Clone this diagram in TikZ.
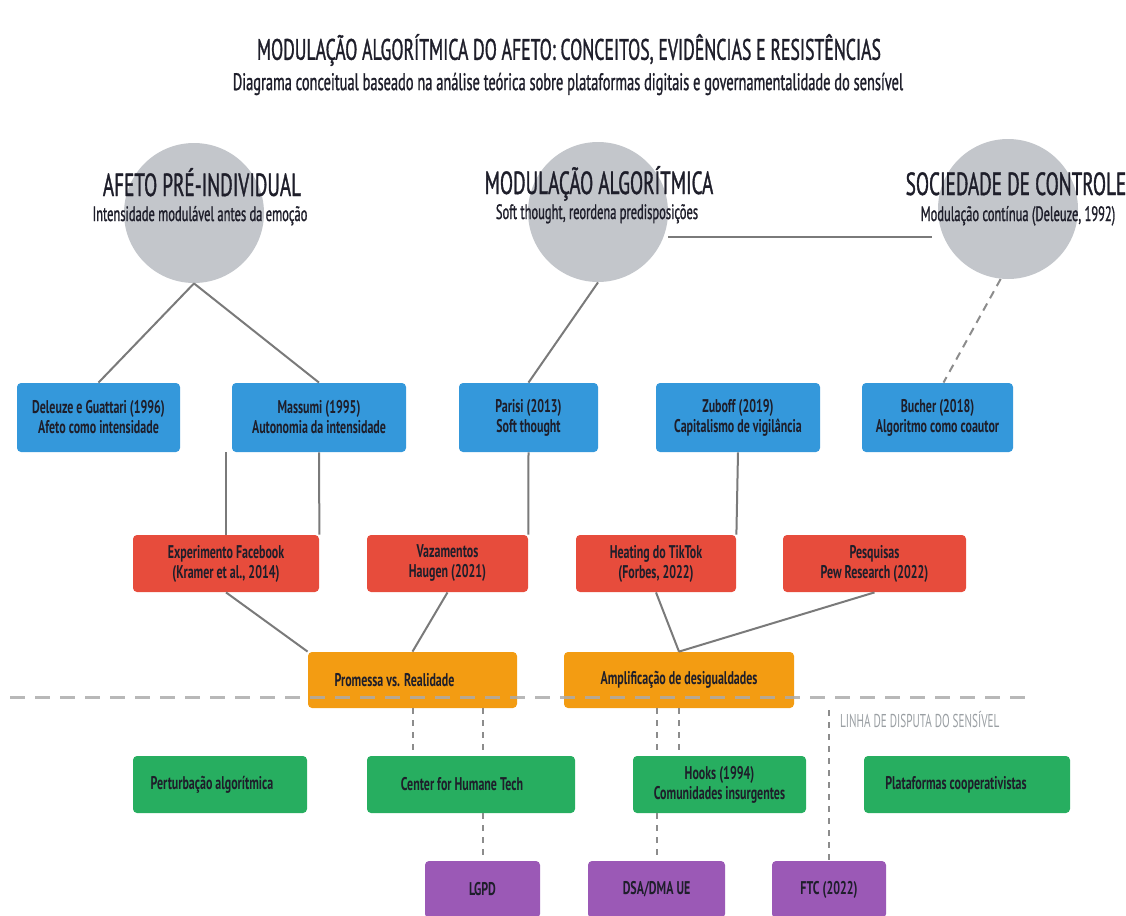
\documentclass[tikz,border=0pt]{standalone}
\usepackage{fontspec}
\setmainfont[FakeStretch=0.65]{PT Sans}
\newfontfamily\headfont[FakeStretch=0.6, FakeBold=1]{PT Sans}
\newfontfamily\lightfont[FakeStretch=0.6]{PT Sans}
\usetikzlibrary{positioning,calc}

\definecolor{flatblue}{HTML}{3498DB}
\definecolor{flatred}{HTML}{E74C3C}
\definecolor{flatorange}{HTML}{F39C12}
\definecolor{flatgreen}{HTML}{27AE60}
\definecolor{flatpurple}{HTML}{9B59B6}
\definecolor{silver}{HTML}{C3C6CB}
\definecolor{boxtext}{HTML}{1E1E2A}
\definecolor{linecol}{HTML}{7A7A7A}
\definecolor{dashcol}{HTML}{8C8C8C}
\definecolor{bordercol}{HTML}{ABABAB}
\definecolor{labelcol}{HTML}{9A9FA3}

\begin{document}
\begin{tikzpicture}[
    x = 0.5pt,
    y = -0.5pt
  ]
  \tikzstyle{box}      = [
    rectangle, rounded corners = 2pt,
    text centered,
    align          = center,
    text           = boxtext,
    font           = \bfseries\fontsize{9.2}{10}\selectfont,
    inner sep      = 2pt,
    minimum height = 28.5pt
  ]
  \tikzstyle{theory}     = [box, fill = flatblue, minimum height = 34.5pt]
  \tikzstyle{evidence}   = [box, fill = flatred]
  \tikzstyle{tensionbox} = [box, fill = flatorange, minimum height = 28pt]
  \tikzstyle{resist}     = [box, fill = flatgreen]
  \tikzstyle{policy}     = [box, fill = flatpurple]
  \tikzstyle{concept}    = [circle, fill = silver, minimum size = 70pt, inner sep = 0pt]
  \tikzstyle{head}       = [anchor = base, inner sep = 1pt, text = boxtext,
                            font = \headfont\fontsize{16}{18}\selectfont]
  \tikzstyle{headsub}    = [anchor = base, inner sep = 1pt, text = boxtext,
                            font = \headfont\fontsize{10.4}{12}\selectfont]
  \tikzstyle{line}       = [draw = linecol, line width = 1pt]
  \tikzstyle{dline}      = [draw = dashcol, line width = 1pt, dash pattern = on 3pt off 3pt]
  \tikzstyle{disputeline} = [draw = bordercol, line width = 1.5pt, opacity = 0.85,
                             dash pattern = on 7.5pt off 5pt]

  \useasboundingbox (0,0) rectangle (1126,916);
  \clip (0,0) rectangle (1126,916);

  % titles
  \node [text = boxtext, font = \headfont\fontsize{14.8}{16}\selectfont] (title) at (569,50)
    {MODULAÇÃO ALGORÍTMICA DO AFETO: CONCEITOS, EVIDÊNCIAS E RESISTÊNCIAS};
  \node [text = boxtext, font = \headfont\fontsize{12}{14}\selectfont] (subtitle) at (568,84)
    {Diagrama conceitual baseado na análise teórica sobre plataformas digitais e governamentalidade do sensível};

  % concepts
  \node [concept] (afeto) at (194,213)  {};
  \node [concept] (modul) at (598,212)  {};
  \node [concept] (ctrl)  at (1008,209) {};

  \node [head]    (afetohead) at (202,196)  {AFETO PRÉ-INDIVIDUAL};
  \node [headsub] (afetosub)  at (200,221)  {Intensidade modulável antes da emoção};
  \node [head]    (modulhead) at (599,194)  {MODULAÇÃO ALGORÍTMICA};
  \node [headsub] (modulsub)  at (597,219)  {Soft thought, reordena predisposições};
  \node [head]    (ctrlhead)  at (1016,195) {SOCIEDADE DE CONTROLE};
  \node [headsub] (ctrlsub)   at (1018,221) {Modulação contínua (Deleuze, 1992)};

  % theory
  \node [theory, minimum width = 81.5pt] (deleuze) at (98.5,417.5)  {Deleuze e Guattari (1996)\\Afeto como intensidade};
  \node [theory, minimum width = 87pt]   (massumi) at (319,417.5)   {Massumi (1995)\\Autonomia da intensidade};
  \node [theory, minimum width = 69.5pt] (parisi)  at (528.5,417.5) {Parisi (2013)\\Soft thought};
  \node [theory, minimum width = 82pt]   (zuboff)  at (738,417.5)   {Zuboff (2019)\\Capitalismo de vigilância};
  \node [theory, minimum width = 75.5pt] (bucher)  at (937.5,417.5) {Bucher (2018)\\Algoritmo como coautor};

  % evidence
  \node [evidence, minimum width = 93pt]   (facebook)   at (226,563.5)   {Experimento Facebook\\(Kramer et al., 2014)};
  \node [evidence, minimum width = 80.5pt] (vazamentos) at (447.5,563.5) {Vazamentos\\Haugen (2021)};
  \node [evidence, minimum width = 80pt]   (tiktok)     at (656,563.5)   {Heating do TikTok\\(Forbes, 2022)};
  \node [evidence, minimum width = 91.5pt] (pew)        at (874.5,563.5) {Pesquisas\\Pew Research (2022)};

  % tensions
  \node [tensionbox, minimum width = 104.5pt] (promessa) at (412.5,680) {Promessa vs. Realidade\hspace{18pt}};
  \node [tensionbox, minimum width = 115pt]   (amplif)   at (679,680)   {Amplificação de desigualdades};

  % resistances
  \node [resist, minimum width = 87pt]   (perturb) at (220,784.5)   {Perturbação algorítmica\hspace{8pt}};
  \node [resist, minimum width = 104pt]  (humane)  at (471,784.5)   {Center for Humane Tech\hspace{9pt}};
  \node [resist, minimum width = 86.5pt] (hooks)   at (719.5,784.5) {Hooks (1994)\\Comunidades insurgentes};
  \node [resist, minimum width = 103pt]  (coop)    at (967,784.5)   {Plataformas cooperativistas\hspace{11pt}};

  % regulation
  \node [policy, minimum width = 57.5pt] (lgpd) at (482.5,889.5) {LGPD};
  \node [policy, minimum width = 68.5pt] (dsa)  at (656.5,889.5) {DSA/DMA UE};
  \node [policy, minimum width = 57pt]   (ftc)  at (829,889.5)   {FTC (2022)};

  % connectors
  \coordinate (modright) at (668,237);
  \coordinate (ctrlleft) at (932,237);
  \path [line] (afeto.south) -- (deleuze.north);
  \path [line] (afeto.south) -- (massumi.north);
  \path [line] (modul.south) -- (parisi.north);
  \path [line] (modright) -- (ctrlleft);
  \path [dline, dash pattern = on 4pt off 3pt] (ctrl.264) -- ([xshift = 3pt]bucher.north);

  \path [line] (massumi.south) -- (facebook.north east);
  \path [line] (facebook.north |- massumi.south) -- (facebook.north);
  \path [line] (parisi.south) -- (vazamentos.north east);
  \path [line] (zuboff.south) -- (tiktok.north east);

  \path [line] (facebook.south)   -- (promessa.north west);
  \path [line] (vazamentos.south) -- (promessa.north);
  \path [line] (tiktok.south)     -- (amplif.north);
  \path [line] (pew.south)        -- (amplif.north);

  \path [dline] (promessa.south) -- (promessa.south |- humane.north);
  \path [dline] (lgpd.north |- promessa.south) -- (lgpd.north |- humane.north);
  \path [dline] (lgpd.north |- humane.south) -- (lgpd.north);
  \path [dline] (amplif.south) -- (amplif.south |- hooks.north);
  \path [dline] (dsa.north |- amplif.south) -- (dsa.north |- hooks.north);
  \path [dline] (dsa.north |- hooks.south) -- (dsa.north);
  \coordinate (ftctop) at (829,710);
  \path [dline] (ftctop) -- (ftc.north);

  % line of dispute
  \coordinate (borderl) at (10,697);
  \coordinate (borderr) at (1026,697);
  \path [disputeline] (borderl) -- (borderr);
  \node [anchor = west, text = labelcol, font = \lightfont\fontsize{9.3}{11}\selectfont] (disputa) at (833,720)
    {LINHA DE DISPUTA DO SENSÍVEL};
\end{tikzpicture}
\end{document}
